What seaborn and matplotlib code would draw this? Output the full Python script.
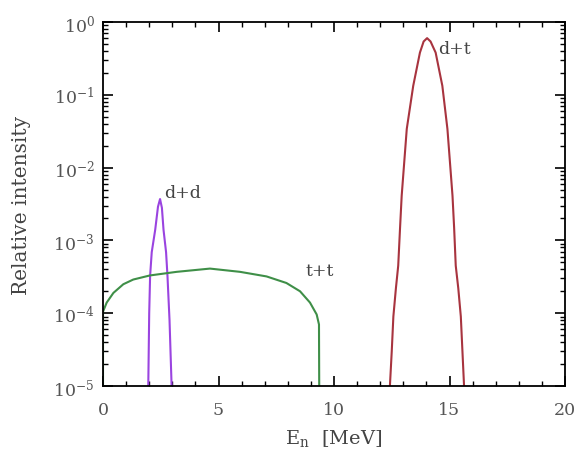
import matplotlib
matplotlib.use("Agg")
import matplotlib.pyplot as plt
from matplotlib.ticker import LogLocator, MultipleLocator, NullFormatter
import numpy as np
import pandas as pd
import seaborn as sns

# Neutron energy spectra of the three fusion reactions (energy in MeV, relative intensity)
dd_energy = [1.96, 2.00, 2.04, 2.11, 2.26, 2.38, 2.47, 2.55, 2.62, 2.73, 2.79, 2.88, 2.97]
dd_intensity = [1e-5, 1e-4, 3.3e-4, 6.9e-4, 1.4e-3, 2.9e-3, 3.7e-3, 2.8e-3, 1.4e-3, 6.9e-4, 3.3e-4, 8e-5, 1e-5]

dt_energy = [12.42, 12.50, 12.57, 12.68, 12.78, 12.86, 12.93, 13.15, 13.43, 13.72, 13.88, 14.03,
             14.18, 14.40, 14.69, 14.91, 15.13, 15.20, 15.27, 15.38, 15.49, 15.56, 15.63]
dt_intensity = [1e-5, 3e-5, 9e-5, 2.2e-4, 4.5e-4, 1.5e-3, 4.1e-3, 3.4e-2, 0.133, 0.38, 0.54, 0.60,
                0.54, 0.38, 0.133, 3.4e-2, 4.1e-3, 1.5e-3, 4.5e-4, 2.2e-4, 9e-5, 3e-5, 1e-5]

tt_energy = [0.0, 0.0, 0.16, 0.45, 0.88, 1.31, 2.03, 3.19, 4.63, 5.93,
             7.08, 7.94, 8.53, 8.96, 9.25, 9.35, 9.36]
tt_intensity = [1e-5, 1.05e-4, 1.4e-4, 1.9e-4, 2.5e-4, 2.9e-4, 3.3e-4, 3.7e-4, 4.1e-4, 3.7e-4,
                3.2e-4, 2.6e-4, 2.0e-4, 1.4e-4, 9.6e-5, 7e-5, 1e-5]

reactions = ["d+d", "t+t", "d+t"]
colors = {"d+d": "#9a44e0", "t+t": "#3f8f48", "d+t": "#a8343f"}
label_pos = {"d+d": (2.65, 4.6e-3), "t+t": (8.76, 3.9e-4), "d+t": (14.5, 0.43)}

frames = []
for name, e, i in [("d+d", dd_energy, dd_intensity),
                   ("t+t", tt_energy, tt_intensity),
                   ("d+t", dt_energy, dt_intensity)]:
    frames.append(pd.DataFrame({"energy": e, "intensity": i, "reaction": name}))
data = pd.concat(frames, ignore_index=True)

sns.set_theme(style="ticks")
plt.rcParams["font.family"] = ["DejaVu Serif"]
plt.rcParams["mathtext.fontset"] = "dejavuserif"

fig = plt.figure(figsize=(5.8, 4.56), dpi=100)
ax = fig.add_axes([103 / 580, 1 - 387 / 456, 462 / 580, 364 / 456])

sns.lineplot(data=data, x="energy", y="intensity", hue="reaction",
             palette=colors, hue_order=reactions, sort=False, estimator=None,
             linewidth=1.5, legend=False, ax=ax)

ax.set_yscale("log")
ax.set_xlim(0, 20)
ax.set_ylim(1e-5, 1)

ax.xaxis.set_major_locator(MultipleLocator(5))
ax.xaxis.set_minor_locator(MultipleLocator(1))
ax.yaxis.set_major_locator(LogLocator(base=10, numticks=10))
ax.yaxis.set_minor_locator(LogLocator(base=10, subs=np.arange(2, 10), numticks=20))
ax.yaxis.set_minor_formatter(NullFormatter())

ax.tick_params(which="both", direction="in", top=True, right=True,
               colors="black", labelcolor="#555555", labelsize=12.5)
ax.tick_params(axis="x", which="major", pad=11)
ax.tick_params(axis="y", which="major", pad=6)
ax.tick_params(which="major", length=7, width=1.2)
ax.tick_params(which="minor", length=3.5, width=1.0)
for side in ax.spines.values():
    side.set_linewidth(1.3)
    side.set_color("black")

for name in reactions:
    x, y = label_pos[name]
    ax.text(x, y, name, fontsize=12.5, color="#444444", ha="left", va="center")

ax.set_xlabel(r"E$_{\mathrm{n}}$  [MeV]", fontsize=14, color="#444444", labelpad=6)
ax.set_ylabel("Relative intensity", fontsize=14.5, color="#444444", labelpad=16)

fig.savefig("out.png", dpi=100)
